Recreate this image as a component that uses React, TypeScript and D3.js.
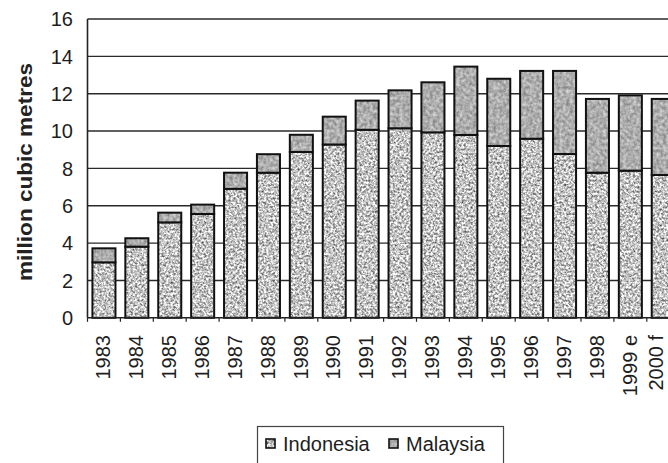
import React from "react";
import * as d3 from "d3";

// Log production, million cubic metres
const years = ["1983", "1984", "1985", "1986", "1987", "1988", "1989", "1990", "1991", "1992", "1993", "1994", "1995", "1996", "1997", "1998", "1999 e", "2000 f"];
const indonesia = [2.97, 3.81, 5.11, 5.56, 6.91, 7.77, 8.88, 9.28, 10.07, 10.15, 9.93, 9.79, 9.2, 9.59, 8.77, 7.77, 7.88, 7.65];
const malaysia = [0.75, 0.45, 0.52, 0.5, 0.86, 0.99, 0.92, 1.49, 1.56, 2.03, 2.68, 3.66, 3.6, 3.63, 4.45, 3.95, 4.03, 4.07];
const yTicks = [0, 2, 4, 6, 8, 10, 12, 14, 16];
const seriesNames = ["Indonesia", "Malaysia"];

const W = 668;
const H = 463;
const FONT = "'Liberation Sans', Arial, sans-serif";
const INK = "#1e1e1e";

export default function App() {
  const x = d3.scaleBand<string>().domain(years).range([87.5, 87.5 + 18 * 32.9]).paddingInner(0.3).paddingOuter(0.15);
  const y = d3.scaleLinear().domain([0, 16]).range([317.8, 19]);

  const rows = years.map((yr, i) => ({ year: yr, Indonesia: indonesia[i], Malaysia: malaysia[i] }));
  const stacked = d3.stack<any>().keys(seriesNames)(rows);

  const boundaries = d3.range(years.length + 1).map((i) => x.range()[0] + i * x.step());

  return (
    <svg width={W} height={H} style={{ position: "absolute", left: 0, top: 0, background: "#fff" }} fontFamily={FONT}>
      <defs>
        {/* mottled grey textures for the two series */}
        <filter id="stippleLight" x="0" y="0" width="100%" height="100%" colorInterpolationFilters="sRGB">
          <feTurbulence type="fractalNoise" baseFrequency="0.45" numOctaves="3" seed="7" result="noise" />
          <feColorMatrix in="noise" type="matrix" values="1.25 0 0 0 0.14  1.25 0 0 0 0.14  1.25 0 0 0 0.14  0 0 0 0 1" result="gray" />
          <feComposite in="gray" in2="SourceGraphic" operator="in" />
        </filter>
        <filter id="stippleDark" x="0" y="0" width="100%" height="100%" colorInterpolationFilters="sRGB">
          <feTurbulence type="fractalNoise" baseFrequency="0.3" numOctaves="2" seed="3" result="noise" />
          <feColorMatrix in="noise" type="matrix" values="0.5 0 0 0 0.43  0.5 0 0 0 0.43  0.5 0 0 0 0.43  0 0 0 0 1" result="gray" />
          <feComposite in="gray" in2="SourceGraphic" operator="in" />
        </filter>
      </defs>

      {/* gridlines */}
      {yTicks.filter((t) => t > 0).map((t) => (
        <line key={t} x1={87.5} x2={W} y1={y(t)} y2={y(t)} stroke="#2a2a2a" strokeWidth={1.4} />
      ))}

      {/* y tick labels */}
      {yTicks.map((t) => (
        <text key={t} x={73} y={y(t)} dy="0.36em" textAnchor="end" fontSize={20} fill={INK}>
          {t}
        </text>
      ))}

      {/* bars */}
      {stacked.map((layer, li) => (
        <g key={layer.key}>
          {layer.map((d, i) => {
            const bx = x(years[i])!;
            const top = y(d[1]);
            const h = y(d[0]) - y(d[1]);
            return (
              <g key={i}>
                <rect x={bx} y={top} width={x.bandwidth()} height={h} fill="#bbb" filter={li === 0 ? "url(#stippleLight)" : "url(#stippleDark)"} />
                <rect x={bx} y={top} width={x.bandwidth()} height={h} fill="none" stroke="#111" strokeWidth={2} />
              </g>
            );
          })}
        </g>
      ))}

      {/* axes */}
      <line x1={87.5} x2={87.5} y1={y(16)} y2={y(0)} stroke="#222" strokeWidth={1.6} />
      <line x1={87.5} x2={W} y1={y(0)} y2={y(0)} stroke="#222" strokeWidth={1.6} />
      {boundaries.map((bx, i) => (
        <line key={i} x1={bx} x2={bx} y1={y(0)} y2={y(0) + 4} stroke="#222" strokeWidth={1.2} />
      ))}

      {/* x tick labels; the last one is kept inside the drawing */}
      {years.map((yr) => {
        const cx = Math.min(x(yr)! + x.bandwidth() / 2 - 1, W - 12);
        return (
          <text key={yr} transform={`translate(${cx},335) rotate(-90)`} dy="0.36em" textAnchor="end" fontSize={20} fill={INK}>
            {yr}
          </text>
        );
      })}

      {/* y axis title */}
      <text transform="translate(24.5,172) rotate(-90)" dy="0.36em" textAnchor="middle" fontSize={20} fontWeight="bold" fill="#222" textLength={218} lengthAdjust="spacingAndGlyphs">
        million cubic metres
      </text>

      {/* legend */}
      <rect x={257.5} y={426.5} width={246} height={50} fill="#fff" stroke="#444" strokeWidth={1.2} />
      {seriesNames.map((name, i) => {
        const lx = i === 0 ? 266 : 389;
        return (
          <g key={name}>
            <rect x={lx} y={439} width={9} height={9} fill="#bbb" filter={i === 0 ? "url(#stippleLight)" : "url(#stippleDark)"} />
            <rect x={lx} y={439} width={9} height={9} fill="none" stroke="#111" strokeWidth={1.6} />
            <text x={lx + 17} y={451} fontSize={20} fill={INK}>
              {name}
            </text>
          </g>
        );
      })}
    </svg>
  );
}
